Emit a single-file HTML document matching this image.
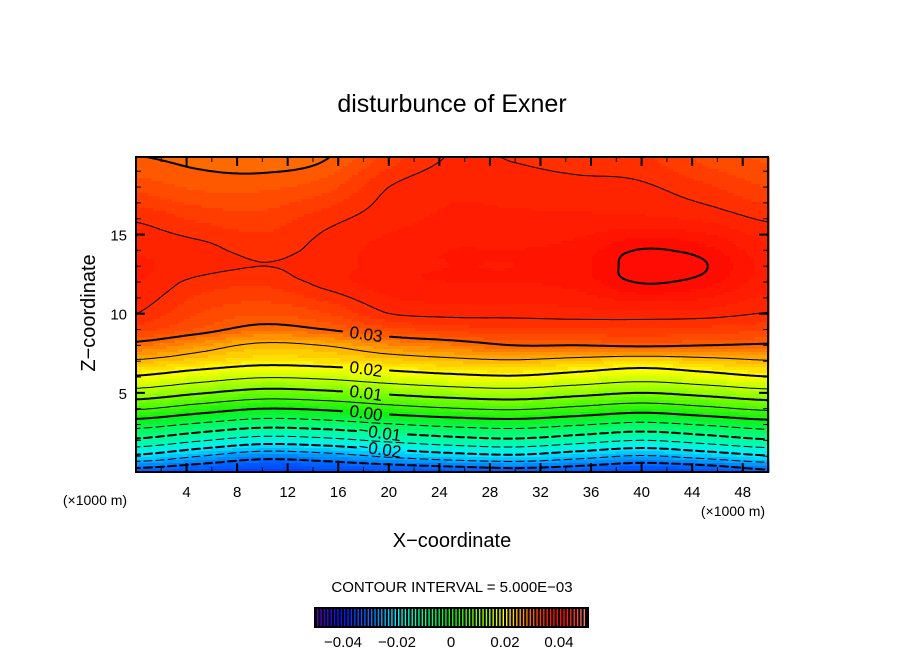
<!DOCTYPE html>
<html><head><meta charset="utf-8">
<style>
html,body{margin:0;padding:0;background:#fff;}
svg{display:block;font-family:"Liberation Sans",sans-serif;}
</style></head>
<body>
<svg id="chart" width="904" height="654" viewBox="0 0 904 654" xmlns="http://www.w3.org/2000/svg">
<text x="452" y="112" font-size="25" text-anchor="middle" fill="#000">disturbunce of Exner</text>
<g id="fill"></g>
<g id="lines"></g>
<g id="labels"></g>
<g id="ticks"></g>
<rect x="136" y="157" width="632" height="315" fill="none" stroke="#000" stroke-width="2"/>
<g id="xlabels" font-size="15" text-anchor="middle"></g>
<g id="ylabels" font-size="15" text-anchor="end"></g>
<text x="95" y="505" font-size="14" text-anchor="middle">(×1000 m)</text>
<text x="733" y="516" font-size="14" text-anchor="middle">(×1000 m)</text>
<text x="452" y="547" font-size="20" text-anchor="middle">X−coordinate</text>
<text x="0" y="0" font-size="20" text-anchor="middle" transform="translate(95,313) rotate(-90)">Z−coordinate</text>
<text x="452" y="592" font-size="15" text-anchor="middle">CONTOUR INTERVAL = 5.000E−03</text>
<rect x="314" y="607" width="275" height="21" fill="#000"/>
<g id="cbar"></g>
<g id="cbarlabels" font-size="15" text-anchor="middle"></g>
</svg>
<script>
// ---- data grid (x in km, z in km, values = Exner disturbance) ----
const xCols = [0,5,10,15,20,25,30,35,40,45,50];
const zRows = [0,1,2,3,4,5,6,7,8,9,10,12,13,14,16,18,20];
const row_z0  = [-0.032,-0.034,-0.036,-0.035,-0.034,-0.033,-0.032,-0.033,-0.035,-0.034,-0.031];
const row_z1  = [-0.021,-0.0249,-0.0282,-0.027,-0.0243,-0.0221,-0.021,-0.0232,-0.0254,-0.0232,-0.0205];
const row_z2  = [-0.011,-0.0145,-0.0175,-0.0165,-0.014,-0.012,-0.011,-0.013,-0.015,-0.013,-0.0106];
const row_z3  = [-0.003,-0.0058,-0.0082,-0.0074,-0.0054,-0.0038,-0.003,-0.0046,-0.0062,-0.0046,-0.0026];
const row_z4  = [0.0055,0.0025,0.0,0.0008,0.003,0.0047,0.0055,0.0038,0.0021,0.0038,0.0059];
const row_z5  = [0.013,0.0104,0.0081,0.0089,0.0108,0.0123,0.013,0.0115,0.01,0.0115,0.0133];
const row_z6  = [0.0195,0.0172,0.0153,0.0159,0.0176,0.0189,0.0195,0.0182,0.0169,0.0182,0.0198];
const row_z7  = [0.0245,0.0228,0.0213,0.0218,0.023,0.024,0.0245,0.0235,0.0225,0.0235,0.0247];
const row_z8  = [0.029,0.0266,0.0243,0.0251,0.0273,0.0285,0.030,0.030,0.0304,0.030,0.0296];
const row_z9  = [0.033,0.031,0.029,0.030,0.032,0.033,0.0335,0.0335,0.0335,0.0333,0.0328];
const row_z10 = [0.035,0.0325,0.0315,0.0325,0.035,0.0355,0.0355,0.03575,0.036,0.03575,0.0349];
const row_z12 = [0.03625,0.0345,0.034,0.0355,0.037,0.0375,0.0375,0.038,0.0401,0.0392,0.03675];
const row_z13 = [0.0365,0.0355,0.035,0.0355,0.037,0.0375,0.0375,0.03825,0.04075,0.0401,0.037];
const row_z14 = [0.036,0.0355,0.0345,0.0355,0.03675,0.0375,0.0375,0.038,0.0401,0.0392,0.0365];
const row_z16 = [0.0348,0.0335,0.033,0.0345,0.03575,0.0365,0.0365,0.0365,0.0365,0.036,0.0348];
const row_z18 = [0.032,0.031,0.031,0.032,0.035,0.036,0.03575,0.0355,0.03525,0.034,0.0325];
const row_z20 = [0.030,0.0295,0.029,0.0298,0.033,0.0351,0.03485,0.0343,0.034,0.032,0.031];
const gridRows = [row_z0,row_z1,row_z2,row_z3,row_z4,row_z5,row_z6,row_z7,row_z8,row_z9,row_z10,row_z12,row_z13,row_z14,row_z16,row_z18,row_z20];
const contourLevels = [-0.03,-0.025,-0.02,-0.015,-0.01,-0.005,0,0.005,0.01,0.015,0.02,0.025,0.03,0.035,0.04];
const labelLevels = [0.03,0.02,0.01,0,-0.01,-0.02];
const labelTexts = ["0.03","0.02","0.01","0.00","−0.01","−0.02"];
const xTicks = [4,8,12,16,20,24,28,32,36,40,44,48];
const yTicks = [5,10,15];
const cbarTicks = [-0.04,-0.02,0,0.02,0.04];
const cbarTickLabels = ["−0.04","−0.02","0","0.02","0.04"];

// ---- axes ----
const PX0=136, PX1=768, PY0=157, PY1=472, XMAX=50, ZMAX=19.9;
const X = x => PX0 + x*(PX1-PX0)/XMAX;
const Y = z => PY1 - z*(PY1-PY0)/ZMAX;
const NS="http://www.w3.org/2000/svg";
function mk(tag, attrs, parent){const e=document.createElementNS(NS,tag);for(const k in attrs)e.setAttribute(k,attrs[k]);parent.appendChild(e);return e;}

function interp1(arr, v){
  if(v<=arr[0]) return [0,0];
  for(let i=0;i<arr.length-1;i++){ if(v<=arr[i+1]) return [i,(v-arr[i])/(arr[i+1]-arr[i])]; }
  return [arr.length-2,1];
}
function cr(p0,p1,p2,p3,t){
  const t2=t*t,t3=t2*t;
  return 0.5*((2*p1)+(-p0+p2)*t+(2*p0-5*p1+4*p2-p3)*t2+(-p0+3*p1-3*p2+p3)*t3);
}
function rowAt(j,i,tx){
  const r=gridRows[j], n=r.length;
  const g=k=>r[Math.max(0,Math.min(n-1,k))];
  return cr(g(i-1),g(i),g(i+1),g(i+2),tx);
}
function field(x,z){
  const [i,tx]=interp1(xCols,x), [j,tz]=interp1(zRows,z);
  const m=gridRows.length;
  const h=k=>rowAt(Math.max(0,Math.min(m-1,k)),i,tx);
  return cr(h(j-1),h(j),h(j+1),h(j+2),tz);
}
const stops=[[-0.05,[96,0,192]],[-0.04,[0,24,255]],[-0.035,[0,72,255]],[-0.03,[0,112,255]],[-0.025,[0,176,255]],[-0.02,[0,240,255]],[-0.01,[0,255,144]],[0,[16,240,16]],[0.01,[128,255,0]],[0.02,[255,255,0]],[0.025,[255,176,0]],[0.03,[255,96,0]],[0.035,[255,40,0]],[0.04,[255,8,0]],[0.045,[255,40,40]],[0.05,[255,128,128]]];
function color(v){
  if(v<=stops[0][0]) v=stops[0][0]; if(v>=0.05) v=0.05;
  for(let i=0;i<stops.length-1;i++){ if(v<=stops[i+1][0]){const t=(v-stops[i][0])/(stops[i+1][0]-stops[i][0]);const a=stops[i][1],b=stops[i+1][1];return 'rgb('+a.map((c,k)=>Math.round(c+(b[k]-c)*t)).join(',')+')';}}
}
const STEP=0.00125;
function qcolor(v){return color((Math.floor(v/STEP)+0.5)*STEP);}

// ---- fill ----
const fillG=document.getElementById('fill');
const CW=3, CH=3;
const nx=Math.ceil((PX1-PX0)/CW), nz=Math.ceil((PY1-PY0)/CH);
for(let r=0;r<nz;r++){
  const py=PY0+r*CH, zc=(PY1-(py+CH/2))*ZMAX/(PY1-PY0);
  let runStart=0, runCol=null;
  for(let c=0;c<=nx;c++){
    let col=null;
    if(c<nx){const xc=(c*CW+CW/2)*XMAX/(PX1-PX0); col=qcolor(field(xc,zc));}
    if(col!==runCol){
      if(runCol!==null){
        const rc=mk('rect',{x:PX0+runStart*CW,y:py,width:(c-runStart)*CW+0.6,height:CH+0.6,fill:runCol},fillG);
        
        
      }
      runStart=c; runCol=col;
    }
  }
}

// ---- contour label positions ----
const labelX=[18.2,18.2,18.2,18.2,19.3,19.3];
const labelInfo=[];
labelLevels.forEach((lv,k)=>{
  let zf=0; for(let z=0;z<19.9;z+=0.02){ if(field(labelX[k],z)>=lv){zf=z;break;} }
  labelInfo.push({lv, x:labelX[k], z:zf, txt:labelTexts[k]});
});

// ---- contour lines (marching squares) ----
const linesG=document.getElementById('lines');
const G=2; const gx=Math.ceil((PX1-PX0)/G), gz=Math.ceil((PY1-PY0)/G);
const vals=[];
for(let j=0;j<=gz;j++){const row=[];const py=Math.min(PY1,PY0+j*G);const z=(PY1-py)*ZMAX/(PY1-PY0);
  for(let i=0;i<=gx;i++){const px=Math.min(PX1,PX0+i*G);row.push(field((px-PX0)*XMAX/(PX1-PX0),z));} vals.push(row);}
contourLevels.forEach(lv=>{
  let d='';
  const lab=labelInfo.find(l=>Math.abs(l.lv-lv)<1e-9);
  const skip0=lab?X(lab.x)-24:-1, skip1=lab?X(lab.x)+24:-1;
  for(let j=0;j<gz;j++)for(let i=0;i<gx;i++){
    const x0=PX0+i*G,x1=Math.min(PX1,x0+G),y0=PY0+j*G,y1=Math.min(PY1,y0+G);
    const a=vals[j][i],b=vals[j][i+1],c=vals[j+1][i+1],e=vals[j+1][i];
    const pts=[];
    if((a-lv)*(b-lv)<0) pts.push([x0+(lv-a)/(b-a)*(x1-x0),y0]);
    if((b-lv)*(c-lv)<0) pts.push([x1,y0+(lv-b)/(c-b)*(y1-y0)]);
    if((e-lv)*(c-lv)<0) pts.push([x0+(lv-e)/(c-e)*(x1-x0),y1]);
    if((a-lv)*(e-lv)<0) pts.push([x0,y0+(lv-a)/(e-a)*(y1-y0)]);
    if(pts.length>=2){
      const mx=(pts[0][0]+pts[1][0])/2;
      if(lab && mx>skip0 && mx<skip1) continue;
      if(lv<0 && Math.floor(mx/4)%3===2) continue;
      d+='M'+pts[0][0].toFixed(1)+' '+pts[0][1].toFixed(1)+'L'+pts[1][0].toFixed(1)+' '+pts[1][1].toFixed(1);
    }
  }
  const major=Math.abs(Math.round(lv*100)-lv*100)<1e-6;
  const p=mk('path',{d:d,fill:'none',stroke:'#000','stroke-width':(major?2:1),'stroke-linecap':'round'},linesG);
  
  
});

// ---- contour labels ----
const labG=document.getElementById('labels');
labelInfo.forEach(l=>{
  const t=mk('text',{x:X(l.x),y:Y(l.z)+6,'font-size':17,'text-anchor':'middle',transform:'rotate(8 '+X(l.x)+' '+Y(l.z)+')'},labG);
  t.textContent=l.txt;
  
  
});

// ---- ticks ----
const tG=document.getElementById('ticks');
for(let x=2;x<50;x+=2){const maj=x%4===0;const L=maj?9:5;
  mk('line',{x1:X(x),x2:X(x),y1:PY1,y2:PY1-L,stroke:'#000','stroke-width':maj?2:1},tG);
  mk('line',{x1:X(x),x2:X(x),y1:PY0,y2:PY0+L,stroke:'#000','stroke-width':maj?2:1},tG);}
for(let z=1;z<20;z++){const maj=z%5===0;const L=maj?9:5;
  mk('line',{x1:PX0,x2:PX0+L,y1:Y(z),y2:Y(z),stroke:'#000','stroke-width':maj?2:1},tG);
  mk('line',{x1:PX1,x2:PX1-L,y1:Y(z),y2:Y(z),stroke:'#000','stroke-width':maj?2:1},tG);}
const xl=document.getElementById('xlabels');
xTicks.forEach(v=>{const t=mk('text',{x:X(v),y:497},xl);t.textContent=v;
  
  });
const yl=document.getElementById('ylabels');
yTicks.forEach(v=>{const t=mk('text',{x:127,y:Y(v)+6},yl);t.textContent=v;
  
  });

// ---- colorbar ----
const CB=v=>451+v*2700;
const cb=document.getElementById('cbar');
for(let v=-0.05+STEP/2;v<0.05;v+=STEP){
  const ln=mk('line',{x1:CB(v),x2:CB(v),y1:609,y2:626,stroke:color(v),'stroke-width':1.4},cb);
  
  
}
const cbl=document.getElementById('cbarlabels');
cbarTicks.forEach((v,k)=>{const t=mk('text',{x:CB(v),y:647},cbl);t.textContent=cbarTickLabels[k];
  
  });
</script>
</body></html>
